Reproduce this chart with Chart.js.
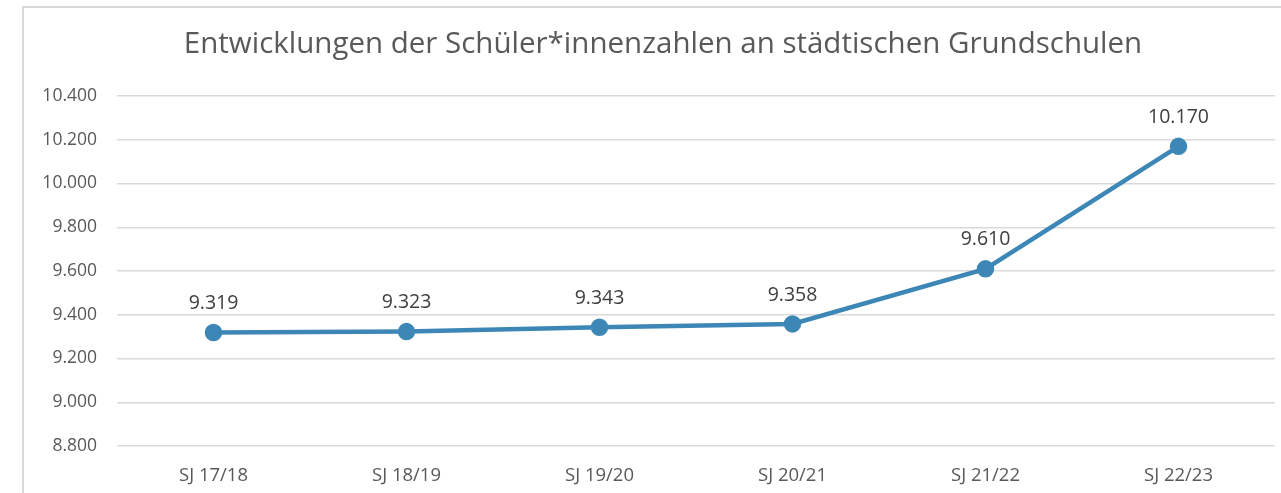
<!DOCTYPE html>
<html>
<head>
<meta charset="utf-8">
<script src="https://cdn.jsdelivr.net/npm/chart.js@4/dist/chart.umd.min.js"></script>
<style>
  html, body { margin: 0; background: #fff; overflow: hidden; }
  #wrap { position: absolute; left: 0; top: 0; width: 1281px; height: 493px; overflow: hidden; }
</style>
</head>
<body>
<div id="wrap"><canvas id="myChart" width="1286" height="493"></canvas></div>
<script>
// data
var categories = ['SJ 17/18', 'SJ 18/19', 'SJ 19/20', 'SJ 20/21', 'SJ 21/22', 'SJ 22/23'];
var schuelerValues = [9319, 9323, 9343, 9358, 9610, 10170];
var yTicks = [8800, 9000, 9200, 9400, 9600, 9800, 10000, 10200, 10400];
var chartTitle = 'Entwicklungen der Schüler*innenzahlen an städtischen Grundschulen';

var lineColor = '#3d87b6';
var textColor = '#595959';

// german thousands separator
function formatNumber(v) {
    return String(Math.round(v)).replace(/\B(?=(\d{3})+(?!\d))/g, '.');
}

// grey frame round the chart, title centred on the frame
var framePlugin = {
    id: 'frame',
    beforeDraw: function (chart) {
        var ctx = chart.ctx;
        ctx.save();
        ctx.strokeStyle = '#d9d9d9';
        ctx.lineWidth = 2;
        ctx.strokeRect(23, 7, 1280, 520);
        ctx.font = '29.5px "Open Sans"';
        ctx.fillStyle = textColor;
        ctx.textAlign = 'center';
        ctx.textBaseline = 'middle';
        ctx.fillText(chartTitle, 663, 45);
        ctx.restore();
    }
};

// value labels above the points
var valueLabels = {
    id: 'valueLabels',
    afterDatasetsDraw: function (chart) {
        var ctx = chart.ctx;
        var meta = chart.getDatasetMeta(0);
        ctx.save();
        ctx.font = '19.5px "Open Sans"';
        ctx.fillStyle = '#404040';
        ctx.textAlign = 'center';
        ctx.textBaseline = 'middle';
        meta.data.forEach(function (pt, i) {
            ctx.fillText(formatNumber(chart.data.datasets[0].data[i]), pt.x, pt.y - 29);
        });
        ctx.restore();
    }
};

var chartDisplay = document.getElementById('myChart');
var myChart = new Chart(chartDisplay, {
    type: 'line',
    data: {
        labels: categories,
        datasets: [{
            label: 'Schüler*innen',
            data: schuelerValues,
            borderColor: lineColor,
            backgroundColor: lineColor,
            borderWidth: 4.5,
            pointRadius: 6.5,
            pointBackgroundColor: lineColor,
            pointBorderColor: lineColor,
            tension: 0
        }]
    },
    options: {
        responsive: false,
        animation: false,
        layout: { padding: { top: 96, left: 0, right: 0, bottom: 0 } },
        plugins: {
            legend: { display: false },
            tooltip: { enabled: false },
            title: { display: false }
        },
        scales: {
            x: {
                offset: true,
                grid: { display: false },
                border: { display: false },
                ticks: {
                    color: textColor,
                    font: { family: '"Open Sans"', size: 18.5 },
                    padding: 11
                },
                afterFit: function (s) {
                    s.height = 47;
                    s.paddingLeft = 0;
                    s.paddingRight = 0;
                }
            },
            y: {
                min: 8800,
                max: 10400,
                afterBuildTicks: function (s) {
                    s.ticks = yTicks.map(function (v) { return { value: v }; });
                },
                grid: { color: '#d9d9d9', lineWidth: 1.5, drawTicks: false },
                border: { display: false },
                ticks: {
                    color: textColor,
                    font: { family: '"Open Sans"', size: 17.5 },
                    padding: 20,
                    callback: function (v) { return formatNumber(v); }
                },
                afterFit: function (s) { s.width = 117; }
            }
        }
    },
    plugins: [framePlugin, valueLabels]
});
</script>
</body>
</html>
